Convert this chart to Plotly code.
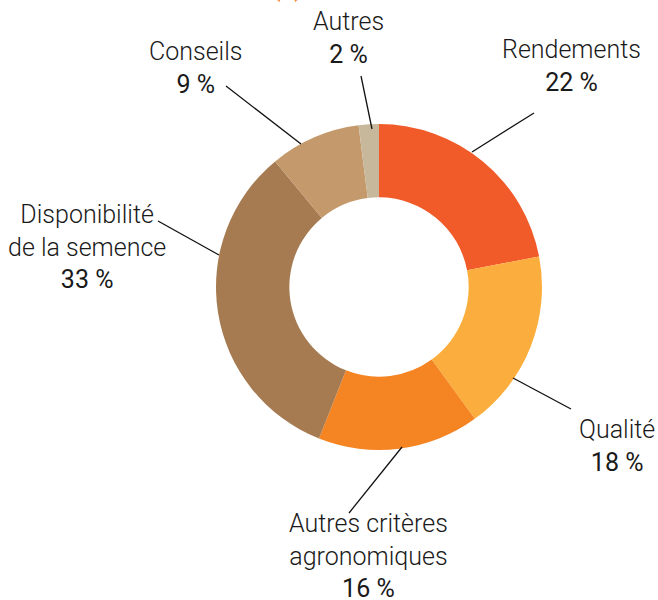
import plotly.graph_objects as go

W, H = 658, 600

# data
labels = ['Rendements', 'Qualité', 'Autres critères<br>agronomiques',
          'Disponibilité<br>de la semence', 'Conseils', 'Autres']
values = [22, 18, 16, 33, 9, 2]
slice_colors = ['#F15A29', '#FBAE3E', '#F58423', '#A67B51', '#C49A6C', '#C8B89B']

# label placement (pixel centre of text block) and leader line (text end -> ring)
label_pos = [(571, 66), (617, 446), (368, 556), (87, 247), (196, 68), (348, 38)]
leaders = [((534, 113), (472, 152)),
           ((571, 409), (513, 378)),
           ((349, 513), (402, 447)),
           ((158, 221), (219, 255)),
           ((226, 86), (301, 144)),
           ((361, 76), (372, 129))]


def px(x, y):
    return x / W, 1 - y / H


fig = go.Figure()
fig.add_trace(go.Pie(
    labels=labels, values=values, hole=0.55, sort=False, direction='clockwise',
    rotation=0, textinfo='none', hoverinfo='label+percent',
    marker=dict(colors=slice_colors, line=dict(width=0)),
    domain=dict(x=[216 / W, 542 / W], y=[1 - 450 / H, 1 - 124 / H]),
    showlegend=False,
))

annotations = []
for lab, v, (x, y) in zip(labels, values, label_pos):
    ax, ay = px(x, y)
    annotations.append(dict(
        x=ax, y=ay, xref='paper', yref='paper', showarrow=False,
        text=f'{lab}<br><span style="font-weight:400">{v} %</span>',
        font=dict(family='Roboto', size=25, color='#1a1a1a', weight=300),
        xanchor='center', yanchor='middle', align='center'))

# cut-off panel title at the very top (only the bottom of the brackets shows)
annotations.append(dict(x=287 / W, y=1 - 4 / H, xref='paper', yref='paper',
                        showarrow=False, text='(a)', yanchor='bottom',
                        font=dict(family='Roboto', size=25, color='#F58423')))

shapes = []
for (x0, y0), (x1, y1) in leaders:
    a0, b0 = px(x0, y0)
    a1, b1 = px(x1, y1)
    shapes.append(dict(type='line', xref='paper', yref='paper',
                       x0=a0, y0=b0, x1=a1, y1=b1,
                       line=dict(color='#111111', width=1.3)))

fig.update_layout(
    width=W, height=H, margin=dict(l=0, r=0, t=0, b=0),
    paper_bgcolor='white', plot_bgcolor='white',
    annotations=annotations, shapes=shapes,
)

fig.write_html('out.html', config={'displayModeBar': False},
               post_script="document.body.style.margin='0';"
               "document.body.style.overflow='hidden';")
